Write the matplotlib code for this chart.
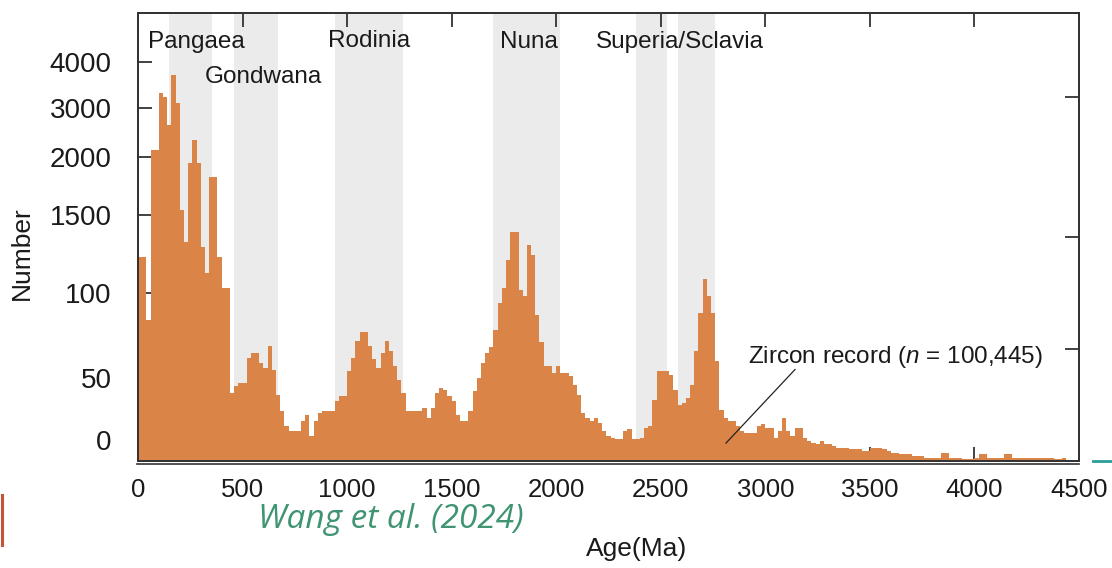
import numpy as np
import matplotlib.pyplot as plt
from matplotlib.lines import Line2D

plt.rcParams['font.family'] = ['Liberation Sans', 'DejaVu Sans']
plt.rcParams['mathtext.fontset'] = 'custom'
plt.rcParams['mathtext.rm'] = 'Liberation Sans'
plt.rcParams['mathtext.it'] = 'Liberation Sans:italic'

# zircon counts per 20 Myr bin, 0-4500 Ma
bin_width = 20
zircon_counts = [
    750, 750, 84, 2140, 2140, 3320, 3245, 2650, 3715, 3100,
    1545, 1020, 1945, 2345, 1945, 930, 455, 1830, 1830, 750,
    185, 185, 41, 45, 47, 47, 62, 65, 65, 59,
    56, 69, 55, 40, 30, 21, 18, 18, 18, 24,
    28, 15, 24, 29, 30, 30, 30, 36, 39, 39,
    54, 62, 72, 77, 77, 69, 61, 56, 65, 72,
    66, 57, 49, 41, 30, 30, 30, 30, 32, 26,
    32, 41, 44, 43, 39, 36, 28, 24, 24, 30,
    42, 50, 59, 65, 68, 78, 94, 190, 690, 1200,
    1200, 154, 98, 960, 780, 87, 71, 57, 57, 53,
    57, 53, 53, 51, 46, 40, 29, 26, 24, 26,
    23, 18, 15, 14, 13, 13, 18, 19, 13, 13,
    14, 20, 21, 37, 54, 54, 54, 52, 43, 34,
    35, 38, 46, 66, 88, 350, 98, 88, 60, 31,
    26, 24, 24, 21, 18, 17, 17, 17, 21, 22,
    20, 20, 14, 18, 26, 18, 15, 20, 20, 14,
    12, 11, 10, 12, 10, 10, 9, 8, 8, 8,
    7, 7, 7, 6, 6, 8, 8, 8, 7, 6,
    5, 5, 4, 4, 4, 3, 3, 3, 2, 2,
    2, 2, 5, 5, 2, 2, 2, 1, 1, 1,
    2, 4, 4, 2, 2, 2, 2, 4, 4, 2,
    2, 2, 2, 2, 2, 2, 2, 2, 2, 1,
    1, 2, 0, 0, 0,
]

# supercontinent assembly intervals (Ma)
band_starts = [150, 460, 940, 1700, 2380, 2580]
band_ends = [355, 670, 1265, 2020, 2530, 2760]
band_labels = ['Pangaea', 'Gondwana', 'Rodinia', 'Nuna', 'Superia/Sclavia']
label_x = [47, 320, 907, 1731, 2190]
label_y = [0.935, 0.857, 0.937, 0.935, 0.935]

x_ticks = list(range(0, 4501, 500))
y_ticks = [50, 100, 1500, 2000, 3000, 4000]

# stretched count axis, piecewise between the labelled values
scale_vals = [0, 50, 100, 1500, 2000, 3000, 4000, 5065]
scale_pos = [0, 83, 168, 246, 304, 353, 399, 448]


def forward(v):
    return np.interp(v, scale_vals, scale_pos)


def inverse(h):
    return np.interp(h, scale_pos, scale_vals)


W, H = 1112, 568
fig = plt.figure(figsize=(W / 100, H / 100), dpi=100)
ax = fig.add_axes([138 / W, (H - 461) / H, (1079 - 138) / W, 448 / H])
ax.set_yscale('function', functions=(forward, inverse))
ax.set_xlim(0, 4500)
ax.set_ylim(0, 5065)

for s, e in zip(band_starts, band_ends):
    ax.axvspan(s, e, color='#ebebeb', lw=0, zorder=0)

# histogram as one stepped polygon
edges = np.arange(0, len(zircon_counts) * bin_width + 1, bin_width)
heights = np.append(zircon_counts, zircon_counts[-1])
ax.fill_between(edges, 0, heights, step='post', color='#da8547', lw=0, zorder=2)

for name, x, y in zip(band_labels, label_x, label_y):
    ax.text(x, y, name, transform=ax.get_xaxis_transform(), fontsize=17.5,
            ha='left', va='center', color='#1a1a1a', zorder=3)

ax.text(2918, 0.232, r'Zircon record ($n$ = 100,445)', transform=ax.get_xaxis_transform(),
        fontsize=17.5, ha='left', va='center', color='#1a1a1a', zorder=3)
ax.plot([3142, 2812], [55, 10.8], color='#222222', lw=0.9, zorder=3)

ax.set_xticks(x_ticks)
ax.set_xticklabels([str(v) for v in x_ticks], fontsize=18.5)
ax.set_yticks(y_ticks)
ax.set_yticklabels([str(v) for v in y_ticks], fontsize=20)
ax.tick_params(axis='x', direction='in', length=10, width=1.3, top=True, pad=12,
               colors='#333333', labelcolor='#1a1a1a')
ax.tick_params(axis='y', direction='in', length=10, width=1.3, pad=19,
               colors='#333333', labelcolor='#1a1a1a')
ax.minorticks_off()
ax.text(-0.0285, 0.040, '0', transform=ax.transAxes, fontsize=20,
        ha='right', va='center', color='#1a1a1a')

# inner ticks on the right frame
ax2 = ax.twinx()
ax2.set_ylim(0, 1)
ax2.set_yticks([0.25, 0.5, 0.8125])
ax2.set_yticklabels([])
ax2.tick_params(axis='y', direction='in', length=10, width=1.3, colors='#333333')

for a in (ax, ax2):
    for sp in a.spines.values():
        sp.set_color('#333333')
        sp.set_linewidth(1.3)

# second line under the age axis
fig.add_artist(Line2D([137 / W, 1079 / W], [(H - 464) / H] * 2, color='#333333', lw=1.2))

fig.text(22 / W, 1 - 253 / H, 'Number', rotation=90, ha='center', va='center',
         fontsize=19, color='#1a1a1a')
fig.text(637 / W, 1 - 549 / H, 'Age(Ma)', ha='center', va='center',
         fontsize=19, color='#1a1a1a')
fig.text(391 / W, 1 - 519 / H, 'Wang et al. (2024)', ha='center', va='center',
         fontfamily=['Open Sans', 'DejaVu Sans'], style='italic', fontsize=24,
         color='#3f9471')

fig.add_artist(Line2D([1.5 / W] * 2, [1 - 495 / H, 1 - 545 / H], color='#c0553a', lw=2.2))
fig.add_artist(Line2D([1093 / W, 1.0], [1 - 461 / H] * 2, color='#2a9d9a', lw=2))

fig.savefig('out.png', dpi=100)
